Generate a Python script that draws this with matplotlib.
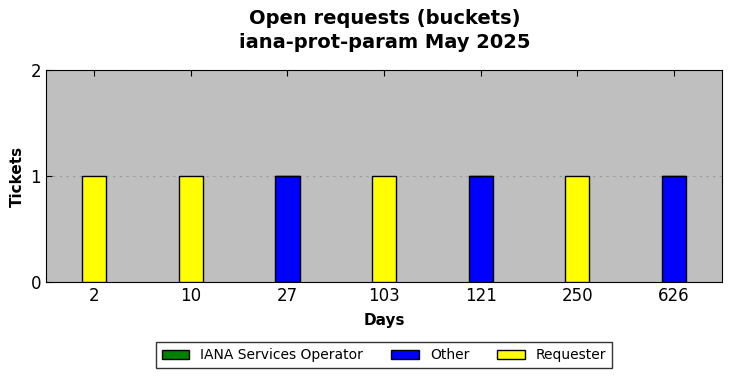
import matplotlib
matplotlib.use("Agg")
import matplotlib.pyplot as plt
import numpy as np

buckets = ["2", "10", "27", "103", "121", "250", "626"]
iana = [0, 0, 0, 0, 0, 0, 0]
other = [0, 0, 1, 0, 1, 0, 1]
requester = [1, 1, 0, 1, 0, 1, 0]

fig = plt.figure(figsize=(7.31, 3.78), dpi=100)
ax = fig.add_axes([46/731, 1-282/378, (722-46)/731, (282-70)/378])
ax.set_facecolor("#bfbfbf")
x = np.arange(len(buckets))
w = 0.25
b1 = ax.bar(x, iana, w, color="green", edgecolor="black", label="IANA Services Operator", zorder=3)
b2 = ax.bar(x, other, w, bottom=iana, color="blue", edgecolor="black", label="Other", zorder=3)
bot = np.array(iana) + np.array(other)
b3 = ax.bar(x, requester, w, bottom=bot, color="yellow", edgecolor="black", label="Requester", zorder=3)

ax.set_xlim(-0.5, len(buckets) - 0.5)
ax.set_ylim(0, 2)
ax.set_yticks([0, 1, 2])
ax.set_xticks(x)
ax.set_xticklabels(buckets)
ax.tick_params(axis="both", labelsize=12, direction="in", top=True, right=True, length=4)
ax.tick_params(axis="y", right=False)
ax.yaxis.grid(True, linestyle=(0, (2, 4)), color="#999999", linewidth=0.8, zorder=1)
ax.set_axisbelow(True)
ax.set_xlabel("Days", fontsize=11, fontweight="bold", labelpad=6)
ax.set_ylabel("Tickets", fontsize=11, fontweight="bold")
fig.suptitle("Open requests (buckets)\niana-prot-param May 2025", fontsize=14, fontweight="bold",
             x=385/731, y=0.975, linespacing=1.3)
leg = fig.legend(handles=[b1, b2, b3], loc="center", bbox_to_anchor=(384/731, 1-355/378), ncol=3,
                 fontsize=10, frameon=True, fancybox=False, edgecolor="black", handlelength=2, handleheight=0.6,
                 columnspacing=2.0, borderpad=0.4)
leg.get_frame().set_linewidth(1.0)
fig.savefig("out.png", dpi=100)
